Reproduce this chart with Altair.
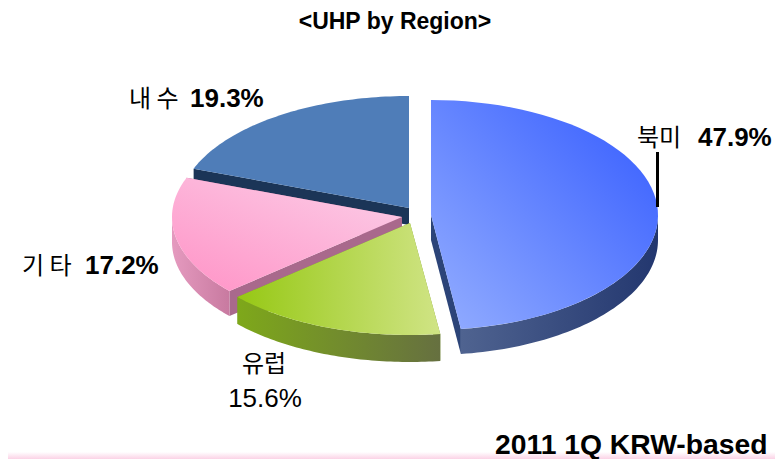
import numpy as np
import pandas as pd
import altair as alt

FONT = "Liberation Sans, Arial, Noto Sans CJK KR"
KFONT = "Noto Sans CJK KR"

regions = ["북미", "유럽", "기타", "내수"]
shares = [47.9, 15.6, 17.2, 19.3]
top_fill = [("#94aeff", "#4469ff"), ("#96c814", "#d0e485"), ("#ff96c8", "#fcc4e2"), ("#4f7db8", "#4f7db8")]
wall_fill = [("#4f6390", "#23376f"), ("#7ea81a", "#667040"), ("#e59abf", "#c87aa0"), ("#1b3557", "#1b3557")]
cut_fill = ["#2c4478", "#7a9a28", "#a9698c", "#1b3557"]
apex_x = [431, 410, 402, 409]
apex_y = [215, 223, 217, 208]
depths = [25, 27, 25, 17]
radius_x = [227, 230, 230, 230]
radius_y = [115, 112, 112, 112]


def px(v):
    return v - 8


def rim(k, a0, a1, n=60):
    t = np.radians(np.linspace(a0, a1, n))
    return apex_x[k] + radius_x[k] * np.sin(t), apex_y[k] - radius_y[k] * np.cos(t)


def shape(xs, ys, fill):
    df = pd.DataFrame({"x": xs, "y": ys, "i": range(len(xs))})
    return alt.Chart(df).mark_line(fill=fill, stroke=None, strokeWidth=0, clip=True).encode(
        x=alt.X("x:Q", scale=alt.Scale(domain=[8, 775]), axis=None),
        y=alt.Y("y:Q", scale=alt.Scale(domain=[459, 8]), axis=None),
        order=alt.Order("i:Q"),
    )


def grad(c0, c1, x1=0, y1=0, x2=1, y2=0):
    return alt.Gradient(gradient="linear", x1=x1, y1=y1, x2=x2, y2=y2,
                        stops=[alt.GradientStop(color=c0, offset=0), alt.GradientStop(color=c1, offset=1)])


starts = np.concatenate([[0], np.cumsum(shares)[:-1]]) * 3.6
ends = np.cumsum(shares) * 3.6

dirs = [(0, 1, 0.85, 0.2), (0, 0, 1, 0), (0, 0.9, 0.7, 0.1), (0, 0, 1, 0)]
layers = []
for k in [3, 2, 1, 0]:
    cx, cy, d = apex_x[k], apex_y[k], depths[k]
    a0, a1 = starts[k], ends[k]
    for ang in (a0, a1):
        ex, ey = rim(k, ang, ang, 1)
        layers.append(shape([cx, ex[0], ex[0], cx], [cy, ey[0], ey[0] + d, cy + d], cut_fill[k]))
    lo, hi = max(a0, 90), min(a1, 270)
    if hi > lo:
        rx, ry = rim(k, lo, hi)
        layers.append(shape(list(rx) + list(rx[::-1]), list(ry) + list(ry[::-1] + d),
                            grad(*wall_fill[k])))
    tx, ty = rim(k, a0, a1)
    x1, y1, x2, y2 = dirs[k]
    layers.append(shape([cx] + list(tx), [cy] + list(ty), grad(*top_fill[k], x1, y1, x2, y2)))


def label(text, x, y, size, bold=False, align="left", font=FONT):
    return alt.Chart(pd.DataFrame({"t": [text]})).mark_text(
        font=font, fontSize=size, fontWeight="bold" if bold else "normal",
        align=align, baseline="alphabetic", color="#000000",
    ).encode(x=alt.value(px(x)), y=alt.value(px(y)), text="t:N")


layers += [
    alt.Chart(pd.DataFrame({"a": [0]})).mark_rect(
        fill=grad("#ffffff", "#fbd2e6", 0, 0, 0, 1)
    ).encode(x=alt.value(0), x2=alt.value(767), y=alt.value(px(452)), y2=alt.value(px(459))),
    alt.Chart(pd.DataFrame({"a": [0]})).mark_rule(color="#000000", strokeWidth=3).encode(
        x=alt.value(px(657.5)), y=alt.value(px(152)), y2=alt.value(px(207))
    ),
    label("<UHP by Region>", 395, 29, 23, True, "center"),
    label(" ".join(regions[3]), 129, 107, 24, font=KFONT),
    label(f"{shares[3]}%", 190, 107, 26, True),
    label(regions[0], 637, 146, 24, font=KFONT),
    label(f"{shares[0]}%", 698, 146, 26, True),
    label(" ".join(regions[2]), 22, 274, 24, font=KFONT),
    label(f"{shares[2]}%", 85, 274, 26, True),
    label(regions[1], 264, 372, 24, align="center", font=KFONT),
    label(f"{shares[1]}%", 265, 407, 26, align="center"),
    label("2011 1Q KRW-based", 495, 454, 28.3, True),
]

chart = alt.layer(*layers).properties(
    width=767, height=451, padding=0,
    autosize=alt.AutoSizeParams(type="none"),
    view=alt.ViewConfig(stroke=None),
).configure_view(stroke=None)

chart.save("out.html", embed_options={"renderer": "svg", "actions": False})
